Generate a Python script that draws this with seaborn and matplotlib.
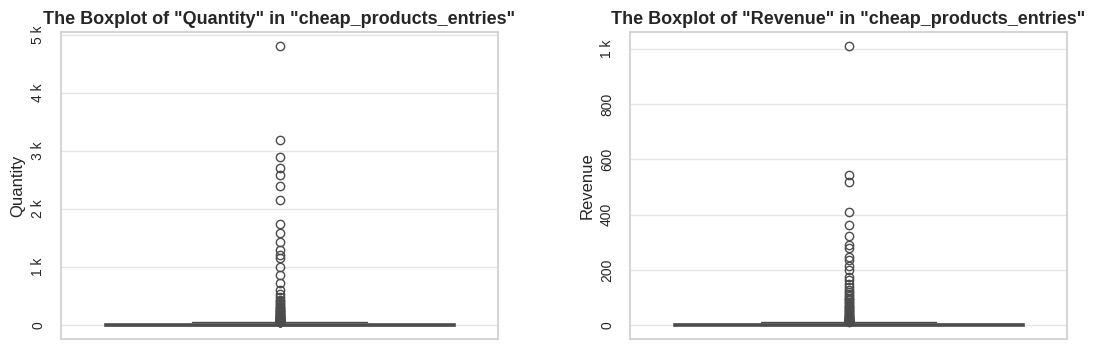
import numpy as np
import pandas as pd
import matplotlib
matplotlib.use("Agg")
import matplotlib.pyplot as plt
import seaborn as sns
from matplotlib.ticker import EngFormatter

# ---- data ----
qty_core_values = [1, 2, 3, 4, 5, 6, 8, 10, 12, 16, 20, 24, 25, 30, 36, 40, 48, 56]
qty_core_counts = [55, 45, 30, 30, 25, 30, 25, 25, 30, 15, 20, 25, 20, 15, 10, 8, 6, 4]
qty_outliers = [4810, 3190, 2900, 2700, 2590, 2400, 2160, 1740, 1590, 1430, 1300,
                1210, 1160, 1000, 860, 720, 600, 540, 480, 440, 410, 384, 360, 336,
                320, 300, 288, 270, 250, 240, 225, 210, 200, 192, 180, 168, 160,
                150, 144, 135, 128, 120, 112, 105, 100, 96, 90, 84, 80, 75, 72, 70,
                66, 64, 60]

rev_core_values = [0.5, 1, 1.5, 2, 2.5, 3, 4, 5, 6, 7, 8, 10, 11]
rev_core_counts = [35, 60, 40, 40, 40, 30, 40, 30, 40, 25, 20, 12, 6]
rev_outliers = [1011, 545, 520, 410, 362, 324, 290, 280, 246, 235, 216, 200, 176,
                165, 150, 140, 128, 120, 112, 105, 100, 95, 90, 85, 80, 75, 70, 66,
                62, 58, 54, 50, 47, 44, 41, 38, 35, 32, 30, 28, 26, 24, 22, 20, 19,
                18, 17, 16, 15, 14, 13.5]

titles = ['The Boxplot of "Quantity" in "cheap_products_entries"',
          'The Boxplot of "Revenue" in "cheap_products_entries"']
ylabels = ["Quantity", "Revenue"]

quantity = np.concatenate([np.repeat(qty_core_values, qty_core_counts), qty_outliers])
revenue = np.concatenate([np.repeat(rev_core_values, rev_core_counts), rev_outliers])
df_q = pd.DataFrame({"Quantity": quantity})
df_r = pd.DataFrame({"Revenue": revenue})

sns.set_theme(style="whitegrid", rc={"grid.color": "#e6e6e6", "axes.edgecolor": "#cfcfcf"})
plt.rcParams["font.family"] = ["Liberation Sans", "DejaVu Sans"]

fig, axes = plt.subplots(1, 2, figsize=(10.97, 3.5), dpi=100)
fig.subplots_adjust(left=0.0556, right=0.9727, bottom=0.031, top=0.909, wspace=0.302)

for ax, df, col, title in zip(axes, [df_q, df_r], ylabels, titles):
    sns.boxplot(data=df, y=col, ax=ax, boxprops={"linewidth": 1.9},
                whiskerprops={"linewidth": 1.0}, capprops={"linewidth": 1.0})
    ax.set_title(title, fontsize=13, fontweight="bold")
    ax.set_ylabel(col, fontsize=12)
    ax.set_xlabel("")
    ax.set_xticks([])
    ax.yaxis.set_major_formatter(EngFormatter())
    ax.tick_params(axis="y", labelrotation=90, labelsize=10, pad=5.5)
    for lab in ax.get_yticklabels():
        lab.set_verticalalignment("center")

fig.savefig("out.png", dpi=100)
